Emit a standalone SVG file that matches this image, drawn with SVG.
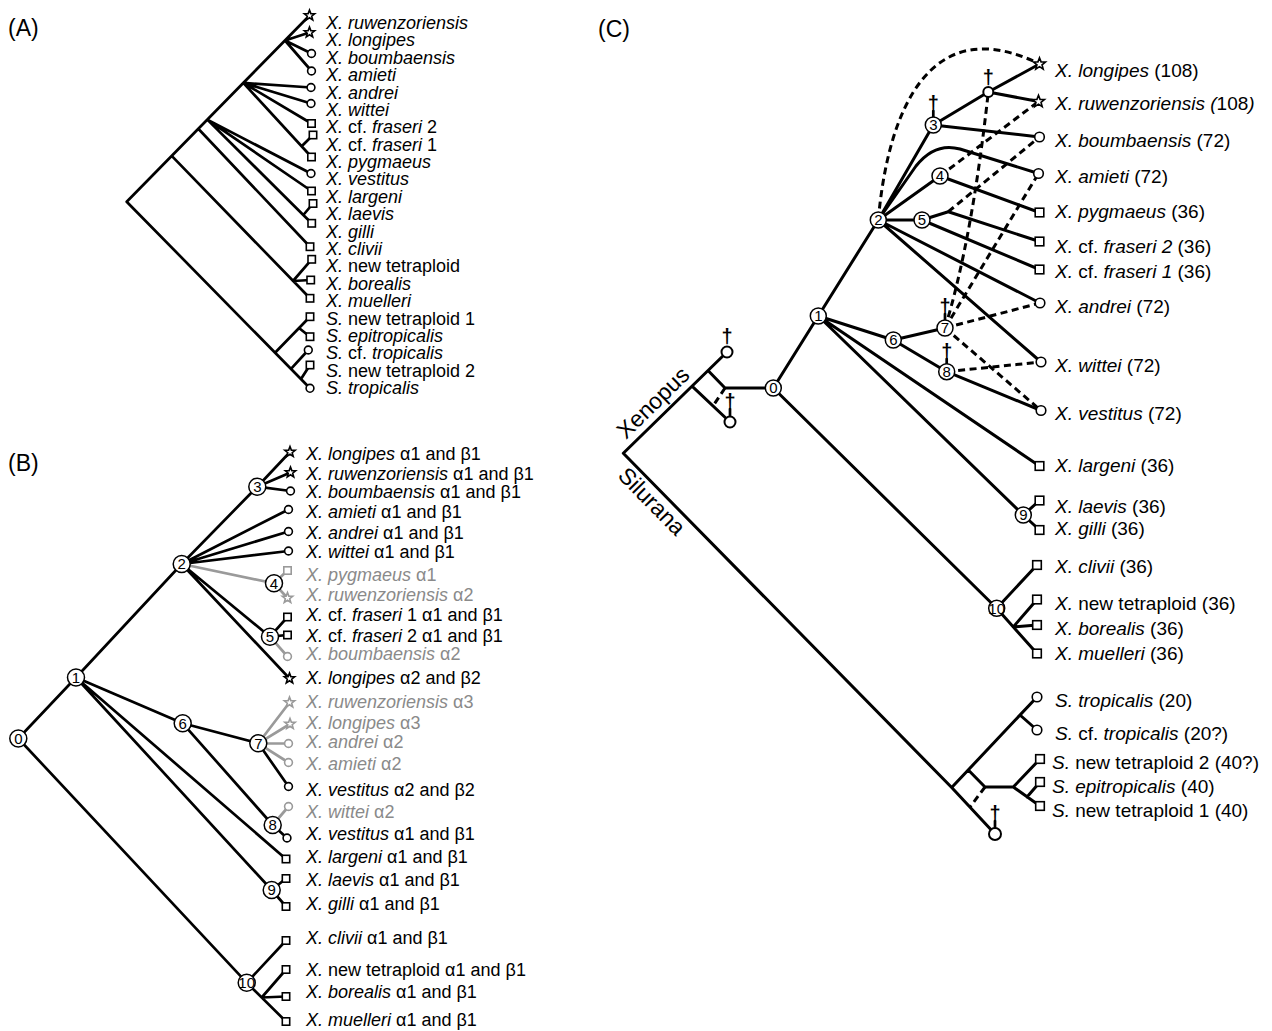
<svg xmlns="http://www.w3.org/2000/svg" width="1272" height="1031" viewBox="0 0 1272 1031">
<style>
text{font-family:"Liberation Sans",Arial,Helvetica,sans-serif;fill:#000}
.a{font-size:18px}.b{font-size:18px}.c{font-size:19px}
.i{font-style:italic}
.gt{fill:#8a8a8a}
.ln{fill:none;stroke:#000;stroke-width:2.7;stroke-linecap:round;stroke-linejoin:round}
.lc{stroke-width:3}
.gr{stroke:#9a9a9a}
.ds{stroke-dasharray:7 4.5;stroke-linecap:butt}
.sy{fill:#fff;stroke:#000;stroke-width:1.6}
.syg{fill:#fff;stroke:#9a9a9a;stroke-width:1.6}
.ex{fill:#fff;stroke:#000;stroke-width:2}
.nd{fill:#fff;stroke:#000;stroke-width:1.5}
.nt{font-size:15px;text-anchor:middle}
.dg{font-size:20px;font-weight:bold;text-anchor:middle}
.pl{font-size:23px}
.rl{font-size:23px}
</style>
<defs>
<path id="st" d="M0,-5.5 L1.35,-1.86 L5.23,-1.7 L2.19,0.71 L3.23,4.45 L0,2.3 L-3.23,4.45 L-2.19,0.71 L-5.23,-1.7 L-1.35,-1.86 Z"/>
<circle id="ci" r="3.9"/>
<rect id="sq" x="-3.7" y="-3.7" width="7.4" height="7.4"/>
<path id="stL" d="M0,-6.3 L1.56,-2.14 L5.99,-1.95 L2.52,0.82 L3.7,5.1 L0,2.65 L-3.7,5.1 L-2.52,0.82 L-5.99,-1.95 L-1.56,-2.14 Z"/>
<circle id="ciL" r="4.8"/>
<rect id="sqL" x="-4.3" y="-4.3" width="8.6" height="8.6"/>
</defs>

<text class="pl" x="8" y="36">(A)</text>
<text class="pl" x="8" y="471">(B)</text>
<text class="pl" x="598" y="37">(C)</text>

<!-- Panel A connectors -->
<g id="connectors-A">
<path class="ln" d="M126.7,201.7 L309.5,15.5 M126.7,201.7 L310,388.3 M285,40.5 L309.5,32.5 M285,40.5 L311.5,53.5 M285,40.5 L311.5,71 M243.3,82.9 L311,87.5 M243.3,82.9 L311,103.5 M243.3,82.9 L311.5,123.5 M243.3,82.9 L311.5,157 M301.7,146.3 L313,135 M207.3,119.6 L311,173.5 M207.3,119.6 L311.5,191 M207.3,119.6 L303.3,215 M303.3,215 L313,203.5 M303.3,215 L311.7,223.3 M198.3,128.8 L310,246.7 M171.7,155.9 L310,298.3 M293,281 L311.7,259.3 M293,281 L310.7,280 M275,352.7 L310,316.7 M299,328 L310,336.7 M291,368.9 L308.3,350 M301,379.1 L310,365"/>
</g>
<g id="tips-A">
<g id="a-t0"><use href="#st" class="sy" x="309.5" y="15.5"/><text class="a i" x="326" y="29">X. ruwenzoriensis</text></g>
<g id="a-t1"><use href="#st" class="sy" x="309.5" y="32.5"/><text class="a i" x="326" y="46.4">X. longipes</text></g>
<g id="a-t2"><use href="#ci" class="sy" x="311.5" y="53.5"/><text class="a i" x="326" y="63.8">X. boumbaensis</text></g>
<g id="a-t3"><use href="#ci" class="sy" x="311.5" y="71"/><text class="a i" x="326" y="81.1">X. amieti</text></g>
<g id="a-t4"><use href="#ci" class="sy" x="311" y="87.5"/><text class="a i" x="326" y="98.5">X. andrei</text></g>
<g id="a-t5"><use href="#ci" class="sy" x="311" y="103.5"/><text class="a i" x="326" y="115.9">X. wittei</text></g>
<g id="a-t6"><use href="#sq" class="sy" x="311.5" y="123.5"/><text class="a" x="326" y="133.3"><tspan class="i">X.</tspan> cf. <tspan class="i">fraseri</tspan> 2</text></g>
<g id="a-t7"><use href="#sq" class="sy" x="313" y="135"/><text class="a" x="326" y="150.7"><tspan class="i">X.</tspan> cf. <tspan class="i">fraseri</tspan> 1</text></g>
<g id="a-t8"><use href="#sq" class="sy" x="311.5" y="157"/><text class="a i" x="326" y="168">X. pygmaeus</text></g>
<g id="a-t9"><use href="#ci" class="sy" x="311" y="173.5"/><text class="a i" x="326" y="185.4">X. vestitus</text></g>
<g id="a-t10"><use href="#sq" class="sy" x="311.5" y="191"/><text class="a i" x="326" y="202.8">X. largeni</text></g>
<g id="a-t11"><use href="#sq" class="sy" x="313" y="203.5"/><text class="a i" x="326" y="220.2">X. laevis</text></g>
<g id="a-t12"><use href="#sq" class="sy" x="311.7" y="223.3"/><text class="a i" x="326" y="237.6">X. gilli</text></g>
<g id="a-t13"><use href="#sq" class="sy" x="310" y="246.7"/><text class="a i" x="326" y="254.9">X. clivii</text></g>
<g id="a-t14"><use href="#sq" class="sy" x="311.7" y="259.3"/><text class="a" x="326" y="272.3"><tspan class="i">X.</tspan> new tetraploid</text></g>
<g id="a-t15"><use href="#sq" class="sy" x="310.7" y="280"/><text class="a i" x="326" y="289.7">X. borealis</text></g>
<g id="a-t16"><use href="#sq" class="sy" x="310" y="298.3"/><text class="a i" x="326" y="307.1">X. muelleri</text></g>
<g id="a-t17"><use href="#sq" class="sy" x="310" y="316.7"/><text class="a" x="326" y="324.5"><tspan class="i">S.</tspan> new tetraploid 1</text></g>
<g id="a-t18"><use href="#sq" class="sy" x="310" y="336.7"/><text class="a i" x="326" y="341.8">S. epitropicalis</text></g>
<g id="a-t19"><use href="#ci" class="sy" x="308.3" y="350"/><text class="a" x="326" y="359.2"><tspan class="i">S.</tspan> cf. <tspan class="i">tropicalis</tspan></text></g>
<g id="a-t20"><use href="#sq" class="sy" x="310" y="365"/><text class="a" x="326" y="376.6"><tspan class="i">S.</tspan> new tetraploid 2</text></g>
<g id="a-t21"><use href="#ci" class="sy" x="310" y="388.3"/><text class="a i" x="326" y="394">S. tropicalis</text></g>
</g>

<!-- Panel B connectors -->
<g id="connectors-B">
<path class="ln" d="M18.3,738.5 L76,677.5 M18.3,738.5 L246.7,982.7 M76,677.5 L181.7,564 M181.7,564 L257.3,486.7 M257.3,486.7 L290,452 M257.3,486.7 L290.5,472.5 M257.3,486.7 L290.5,491 M181.7,564 L288.5,509.5 M181.7,564 L288.5,531.5 M181.7,564 L288.5,551 M181.7,564 L270,636.7 M270,636.7 L287.5,617 M270,636.7 L287.5,635 M181.7,564 L289.5,678.5 M76,677.5 L182.7,723.3 M182.7,723.3 L258.3,743.3 M258.3,743.3 L288.5,786.5 M182.7,723.3 L272.7,825 M272.7,825 L287,838 M76,677.5 L286,859 M76,677.5 L271.7,890 M271.7,890 L286,878.5 M271.7,890 L286,906.5 M246.7,982.7 L286,940.5 M246.7,982.7 L286,1021.5 M261.7,997.5 L286,969.5 M261.7,997.5 L286,996.5"/>
<path class="ln gr" d="M181.7,564 L274,583.3 M274,583.3 L287.5,570.5 M274,583.3 L287.5,598 M270,636.7 L287.5,656.5 M258.3,743.3 L289.5,702.5 M258.3,743.3 L290,724 M258.3,743.3 L288.5,743.5 M258.3,743.3 L288.5,762.5 M272.7,825 L288.5,806.5"/>
</g>
<g id="nodes-B">
<g id="b-n0"><circle class="nd" cx="18.3" cy="738.5" r="8.5"/><text class="nt" x="18.3" y="743.8">0</text></g>
<g id="b-n1"><circle class="nd" cx="76" cy="677.5" r="8.5"/><text class="nt" x="76" y="682.8">1</text></g>
<g id="b-n2"><circle class="nd" cx="181.7" cy="564" r="8.5"/><text class="nt" x="181.7" y="569.3">2</text></g>
<g id="b-n3"><circle class="nd" cx="257.3" cy="486.7" r="8.5"/><text class="nt" x="257.3" y="492">3</text></g>
<g id="b-n4"><circle class="nd" cx="274" cy="583.3" r="8.5"/><text class="nt" x="274" y="588.6">4</text></g>
<g id="b-n5"><circle class="nd" cx="270" cy="636.7" r="8.5"/><text class="nt" x="270" y="642">5</text></g>
<g id="b-n6"><circle class="nd" cx="182.7" cy="723.3" r="8.5"/><text class="nt" x="182.7" y="728.6">6</text></g>
<g id="b-n7"><circle class="nd" cx="258.3" cy="743.3" r="8.5"/><text class="nt" x="258.3" y="748.6">7</text></g>
<g id="b-n8"><circle class="nd" cx="272.7" cy="825" r="8.5"/><text class="nt" x="272.7" y="830.3">8</text></g>
<g id="b-n9"><circle class="nd" cx="271.7" cy="890" r="8.5"/><text class="nt" x="271.7" y="895.3">9</text></g>
<g id="b-n10"><circle class="nd" cx="246.7" cy="982.7" r="8.5"/><text class="nt" x="246.7" y="988">10</text></g>
</g>
<g id="tips-B">
<g id="b-t1"><use href="#st" class="sy" x="290" y="452"/><text class="b" x="306" y="459.5"><tspan class="i">X. longipes</tspan> α1 and β1</text></g>
<g id="b-t2"><use href="#st" class="sy" x="290.5" y="472.5"/><text class="b" x="306" y="479.5"><tspan class="i">X. ruwenzoriensis</tspan> α1 and β1</text></g>
<g id="b-t3"><use href="#ci" class="sy" x="290.5" y="491"/><text class="b" x="306" y="498"><tspan class="i">X. boumbaensis</tspan> α1 and β1</text></g>
<g id="b-t4"><use href="#ci" class="sy" x="288.5" y="509.5"/><text class="b" x="306" y="518"><tspan class="i">X. amieti</tspan> α1 and β1</text></g>
<g id="b-t5"><use href="#ci" class="sy" x="288.5" y="531.5"/><text class="b" x="306" y="538.5"><tspan class="i">X. andrei</tspan> α1 and β1</text></g>
<g id="b-t6"><use href="#ci" class="sy" x="288.5" y="551"/><text class="b" x="306" y="558"><tspan class="i">X. wittei</tspan> α1 and β1</text></g>
<g id="b-t7"><use href="#sq" class="syg" x="287.5" y="570.5"/><text class="b gt" x="306" y="581"><tspan class="i">X. pygmaeus</tspan> α1</text></g>
<g id="b-t8"><use href="#st" class="syg" x="287.5" y="598"/><text class="b gt" x="306" y="601"><tspan class="i">X. ruwenzoriensis</tspan> α2</text></g>
<g id="b-t9"><use href="#sq" class="sy" x="287.5" y="617"/><text class="b" x="306" y="621"><tspan class="i">X.</tspan> cf. <tspan class="i">fraseri</tspan> 1 α1 and β1</text></g>
<g id="b-t10"><use href="#sq" class="sy" x="287.5" y="635"/><text class="b" x="306" y="642"><tspan class="i">X.</tspan> cf. <tspan class="i">fraseri</tspan> 2 α1 and β1</text></g>
<g id="b-t11"><use href="#ci" class="syg" x="287.5" y="656.5"/><text class="b gt" x="306" y="659.5"><tspan class="i">X. boumbaensis</tspan> α2</text></g>
<g id="b-t12"><use href="#st" class="sy" x="289.5" y="678.5"/><text class="b" x="306" y="684"><tspan class="i">X. longipes</tspan> α2 and β2</text></g>
<g id="b-t13"><use href="#st" class="syg" x="289.5" y="702.5"/><text class="b gt" x="306" y="708"><tspan class="i">X. ruwenzoriensis</tspan> α3</text></g>
<g id="b-t14"><use href="#st" class="syg" x="290" y="724"/><text class="b gt" x="306" y="729"><tspan class="i">X. longipes</tspan> α3</text></g>
<g id="b-t15"><use href="#ci" class="syg" x="288.5" y="743.5"/><text class="b gt" x="306" y="748"><tspan class="i">X. andrei</tspan> α2</text></g>
<g id="b-t16"><use href="#ci" class="syg" x="288.5" y="762.5"/><text class="b gt" x="306" y="769.5"><tspan class="i">X. amieti</tspan> α2</text></g>
<g id="b-t17"><use href="#ci" class="sy" x="288.5" y="786.5"/><text class="b" x="306" y="795.5"><tspan class="i">X. vestitus</tspan> α2 and β2</text></g>
<g id="b-t18"><use href="#ci" class="syg" x="288.5" y="806.5"/><text class="b gt" x="306" y="818"><tspan class="i">X. wittei</tspan> α2</text></g>
<g id="b-t19"><use href="#ci" class="sy" x="287" y="838"/><text class="b" x="306" y="840"><tspan class="i">X. vestitus</tspan> α1 and β1</text></g>
<g id="b-t20"><use href="#sq" class="sy" x="286" y="859"/><text class="b" x="306" y="863"><tspan class="i">X. largeni</tspan> α1 and β1</text></g>
<g id="b-t21"><use href="#sq" class="sy" x="286" y="878.5"/><text class="b" x="306" y="886"><tspan class="i">X. laevis</tspan> α1 and β1</text></g>
<g id="b-t22"><use href="#sq" class="sy" x="286" y="906.5"/><text class="b" x="306" y="909.5"><tspan class="i">X. gilli</tspan> α1 and β1</text></g>
<g id="b-t23"><use href="#sq" class="sy" x="286" y="940.5"/><text class="b" x="306" y="943.5"><tspan class="i">X. clivii</tspan> α1 and β1</text></g>
<g id="b-t24"><use href="#sq" class="sy" x="286" y="969.5"/><text class="b" x="306" y="975.5"><tspan class="i">X.</tspan> new tetraploid α1 and β1</text></g>
<g id="b-t25"><use href="#sq" class="sy" x="286" y="996.5"/><text class="b" x="306" y="998"><tspan class="i">X. borealis</tspan> α1 and β1</text></g>
<g id="b-t26"><use href="#sq" class="sy" x="286" y="1021.5"/><text class="b" x="306" y="1025.5"><tspan class="i">X. muelleri</tspan> α1 and β1</text></g>
</g>

<!-- Panel C connectors -->
<g id="connectors-C">
<path class="ln lc" d="M623.3,453.3 L727,352 M708,370.5 L725,388 L773.3,388 M692,386.2 L730,422 M623.3,453.3 L951.7,787.5 L995,834 M773.3,388 L818.3,316 M773.3,388 L996.7,608.3 M818.3,316 L878.3,220 M818.3,316 L893.3,340 M818.3,316 L1039.5,466 M818.3,316 L1023.3,515 M1023.3,515 L1039.5,500.5 M1023.3,515 L1039.5,530 M878.3,220 L933.3,125 M933.3,125 L988.3,92 L1039.5,64 M988.3,92 L1038.5,101.5 M933.3,125 L1039.5,137 M878.3,220 L916,166 Q935,142 960,149 L1038.5,173.5 M878.3,220 L940,176 L1039.5,212.5 M878.3,220 L922,220 L948.3,211.7 L1039.5,241.5 M922,220 L1039.5,269.5 M878.3,220 L1040,303 M878.3,220 L1041,362 M893.3,340 L945,328 M893.3,340 L946.7,371.7 L1041,410.5 M996.7,608.3 L1037,565 M996.7,608.3 L1037,653.5 M1013.3,626.9 L1037,599.5 M1013.3,626.9 L1037,625 M951.7,787.5 L1037,697 M1020,715 L1037,730 M968.3,770 L985,787 L1013.3,787 M1013.3,787 L1040,759 M1013.3,787 L1040,806 M1027,797 L1040,782"/>
<path class="ln lc ds" d="M878.3,220 C888,110 930,10 1039.5,64 M940,176 L1038.5,101.5 M948.3,211.7 L1039.5,137 M945,328 Q972,240 988.3,92 M945,328 L1038.5,173.5 M945,328 L1040,303 M945,328 L1041,410.5 M946.7,371.7 L1041,362 M725,388 L713,406 M985,787 L970,807"/>
<path class="ln" d="M933.3,111 L933.3,117 M945,314 L945,320 M946.7,359 L946.7,364 M730,409 L730,416.5 M995,821 L995,828"/>
</g>
<g id="extinct-C">
<g id="c-x0"><circle class="ex" cx="988.3" cy="92" r="5"/><text class="dg" x="988.3" y="84">†</text></g>
<g id="c-x1"><circle class="ex" cx="727" cy="352" r="5.5"/><text class="dg" x="727" y="343">†</text></g>
<g id="c-x2"><circle class="ex" cx="730" cy="422" r="5.5"/><text class="dg" x="730" y="407.5">†</text></g>
<g id="c-x3"><circle class="ex" cx="995" cy="834" r="6"/><text class="dg" x="995" y="819.5">†</text></g>
</g>
<g id="nodes-C">
<g id="c-n0"><circle class="nd" cx="773.3" cy="388" r="8"/><text class="nt" x="773.3" y="393.3">0</text></g>
<g id="c-n1"><circle class="nd" cx="818.3" cy="316" r="8"/><text class="nt" x="818.3" y="321.3">1</text></g>
<g id="c-n2"><circle class="nd" cx="878.3" cy="220" r="8"/><text class="nt" x="878.3" y="225.3">2</text></g>
<g id="c-n3"><circle class="nd" cx="933.3" cy="125" r="8"/><text class="nt" x="933.3" y="130.3">3</text><text class="dg" x="933.3" y="109.5">†</text></g>
<g id="c-n4"><circle class="nd" cx="940" cy="176" r="8"/><text class="nt" x="940" y="181.3">4</text></g>
<g id="c-n5"><circle class="nd" cx="922" cy="220" r="8"/><text class="nt" x="922" y="225.3">5</text></g>
<g id="c-n6"><circle class="nd" cx="893.3" cy="340" r="8"/><text class="nt" x="893.3" y="345.3">6</text></g>
<g id="c-n7"><circle class="nd" cx="945" cy="328" r="8"/><text class="nt" x="945" y="333.3">7</text><text class="dg" x="945" y="312.5">†</text></g>
<g id="c-n8"><circle class="nd" cx="946.7" cy="371.7" r="8"/><text class="nt" x="946.7" y="377">8</text><text class="dg" x="946.7" y="357.5">†</text></g>
<g id="c-n9"><circle class="nd" cx="1023.3" cy="515" r="8"/><text class="nt" x="1023.3" y="520.3">9</text></g>
<g id="c-n10"><circle class="nd" cx="996.7" cy="608.3" r="8"/><text class="nt" x="996.7" y="613.6">10</text></g>
</g>
<g id="clade-labels-C">
<text class="rl" transform="translate(626,440) rotate(-44.3)">Xenopus</text>
<text class="rl" transform="translate(616.7,476.7) rotate(45.5)">Silurana</text>
</g>
<g id="tips-C">
<g id="c-t1"><use href="#stL" class="sy" x="1039.5" y="64"/><text class="c" x="1055" y="76.5"><tspan class="i">X. longipes</tspan> (108)</text></g>
<g id="c-t2"><use href="#stL" class="sy" x="1038.5" y="101.5"/><text class="c" x="1055" y="110"><tspan class="i">X. ruwenzoriensis (</tspan>108<tspan class="i">)</tspan></text></g>
<g id="c-t3"><use href="#ciL" class="sy" x="1039.5" y="137"/><text class="c" x="1055" y="146.5"><tspan class="i">X. boumbaensis</tspan> (72)</text></g>
<g id="c-t4"><use href="#ciL" class="sy" x="1038.5" y="173.5"/><text class="c" x="1055" y="183"><tspan class="i">X. amieti</tspan> (72)</text></g>
<g id="c-t5"><use href="#sqL" class="sy" x="1039.5" y="212.5"/><text class="c" x="1055" y="218"><tspan class="i">X. pygmaeus</tspan> (36)</text></g>
<g id="c-t6"><use href="#sqL" class="sy" x="1039.5" y="241.5"/><text class="c" x="1055" y="252.5"><tspan class="i">X.</tspan> cf. <tspan class="i">fraseri 2</tspan> (36)</text></g>
<g id="c-t7"><use href="#sqL" class="sy" x="1039.5" y="269.5"/><text class="c" x="1055" y="278"><tspan class="i">X.</tspan> cf. <tspan class="i">fraseri 1</tspan> (36)</text></g>
<g id="c-t8"><use href="#ciL" class="sy" x="1040" y="303"/><text class="c" x="1055" y="313"><tspan class="i">X. andrei</tspan> (72)</text></g>
<g id="c-t9"><use href="#ciL" class="sy" x="1041" y="362"/><text class="c" x="1055" y="371.5"><tspan class="i">X. wittei</tspan> (72)</text></g>
<g id="c-t10"><use href="#ciL" class="sy" x="1041" y="410.5"/><text class="c" x="1055" y="420"><tspan class="i">X. vestitus</tspan> (72)</text></g>
<g id="c-t11"><use href="#sqL" class="sy" x="1039.5" y="466"/><text class="c" x="1055" y="471.5"><tspan class="i">X. largeni</tspan> (36)</text></g>
<g id="c-t12"><use href="#sqL" class="sy" x="1039.5" y="500.5"/><text class="c" x="1055" y="513"><tspan class="i">X. laevis</tspan> (36)</text></g>
<g id="c-t13"><use href="#sqL" class="sy" x="1039.5" y="530"/><text class="c" x="1055" y="535"><tspan class="i">X. gilli</tspan> (36)</text></g>
<g id="c-t14"><use href="#sqL" class="sy" x="1037" y="565"/><text class="c" x="1055" y="573"><tspan class="i">X. clivii</tspan> (36)</text></g>
<g id="c-t15"><use href="#sqL" class="sy" x="1037" y="599.5"/><text class="c" x="1055" y="610"><tspan class="i">X.</tspan> new tetraploid (36)</text></g>
<g id="c-t16"><use href="#sqL" class="sy" x="1037" y="625"/><text class="c" x="1055" y="635"><tspan class="i">X. borealis</tspan> (36)</text></g>
<g id="c-t17"><use href="#sqL" class="sy" x="1037" y="653.5"/><text class="c" x="1055" y="660"><tspan class="i">X. muelleri</tspan> (36)</text></g>
<g id="c-t18"><use href="#ciL" class="sy" x="1037" y="697"/><text class="c" x="1055" y="706.5"><tspan class="i">S. tropicalis</tspan> (20)</text></g>
<g id="c-t19"><use href="#ciL" class="sy" x="1037" y="730"/><text class="c" x="1055" y="740"><tspan class="i">S.</tspan> cf. <tspan class="i">tropicalis</tspan> (20?)</text></g>
<g id="c-t20"><use href="#sqL" class="sy" x="1040" y="759"/><text class="c" x="1052" y="768.5"><tspan class="i">S.</tspan> new tetraploid 2 (40?)</text></g>
<g id="c-t21"><use href="#sqL" class="sy" x="1040" y="782"/><text class="c" x="1052" y="792.5"><tspan class="i">S. epitropicalis</tspan> (40)</text></g>
<g id="c-t22"><use href="#sqL" class="sy" x="1040" y="806"/><text class="c" x="1052" y="816.5"><tspan class="i">S.</tspan> new tetraploid 1 (40)</text></g>
</g>
</svg>
